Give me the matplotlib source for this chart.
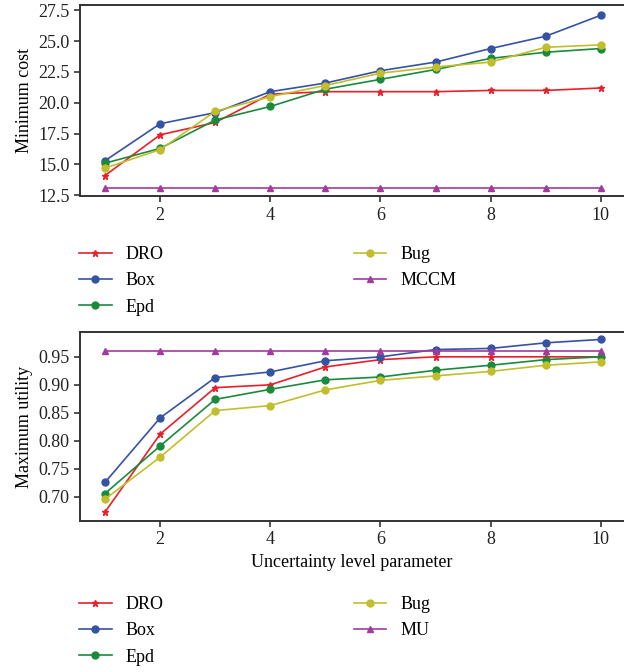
import matplotlib.pyplot as plt
import numpy as np

plt.rcParams["font.family"] = ["Liberation Serif", "DejaVu Serif"]
plt.rcParams["font.size"] = 13

levels = np.arange(1, 11)

cost_dro = [14.1, 17.4, 18.4, 20.7, 20.9, 20.9, 20.9, 21.0, 21.0, 21.2]
cost_box = [15.3, 18.3, 19.2, 20.9, 21.6, 22.6, 23.3, 24.4, 25.4, 27.1]
cost_epd = [15.1, 16.3, 18.6, 19.7, 21.1, 21.9, 22.7, 23.6, 24.1, 24.4]
cost_bug = [14.7, 16.2, 19.3, 20.5, 21.4, 22.4, 22.9, 23.3, 24.5, 24.7]
cost_mccm = [13.1] * 10

util_dro = [0.673, 0.812, 0.895, 0.900, 0.932, 0.945, 0.950, 0.950, 0.950, 0.950]
util_box = [0.726, 0.841, 0.913, 0.923, 0.943, 0.950, 0.963, 0.965, 0.975, 0.981]
util_epd = [0.706, 0.791, 0.874, 0.892, 0.909, 0.914, 0.926, 0.935, 0.945, 0.950]
util_bug = [0.696, 0.771, 0.854, 0.863, 0.891, 0.908, 0.916, 0.924, 0.935, 0.941]
util_mu = [0.960] * 10

colors = {"DRO": "#e8202a", "Box": "#3553a3", "Epd": "#1b8a3c",
          "Bug": "#c2bd2c", "MCCM": "#a03c9c", "MU": "#a03c9c"}
markers = {"DRO": "*", "Box": "o", "Epd": "o", "Bug": "o", "MCCM": "^", "MU": "^"}


def draw(ax, series, ylim, yticks):
    for name, vals in series:
        ax.plot(levels, vals, color=colors[name], marker=markers[name],
                markersize=5, linewidth=1.2, label=name)
    ax.set_xlim(0.546, 10.42)
    ax.set_ylim(*ylim)
    ax.set_xticks([2, 4, 6, 8, 10])
    ax.set_yticks(yticks)
    ax.spines["right"].set_visible(False)
    for s in ["left", "bottom", "top"]:
        ax.spines[s].set_linewidth(1.4)
        ax.spines[s].set_color("#333333")
    ax.tick_params(direction="out", length=4, width=1.2, colors="#333333",
                   labelcolor="#222222")


fig = plt.figure(figsize=(6.24, 6.72), dpi=100)

ax1 = fig.add_axes([80 / 624, 0.708, 544 / 624, 0.284])
draw(ax1, [("DRO", cost_dro), ("Box", cost_box), ("Epd", cost_epd),
           ("Bug", cost_bug), ("MCCM", cost_mccm)],
     (12.42, 27.9), [12.5, 15.0, 17.5, 20.0, 22.5, 25.0, 27.5])
ax1.yaxis.set_major_formatter(plt.FormatStrFormatter("%.1f"))
ax1.set_ylabel("Minimum cost")

ax2 = fig.add_axes([80 / 624, 0.2247, 544 / 624, 0.281])
draw(ax2, [("DRO", util_dro), ("Box", util_box), ("Epd", util_epd),
           ("Bug", util_bug), ("MU", util_mu)],
     (0.657, 0.994), [0.70, 0.75, 0.80, 0.85, 0.90, 0.95])
ax2.yaxis.set_major_formatter(plt.FormatStrFormatter("%.2f"))
ax2.set_ylabel("Maximum utility")
ax2.set_xlabel("Uncertainty level parameter")

for ax, ytop in [(ax1, 1 - 246 / 672), (ax2, 1 - 596 / 672)]:
    fig.legend(*ax.get_legend_handles_labels(), loc="upper left",
               bbox_to_anchor=(79 / 624, ytop), ncol=2, frameon=False,
               borderpad=0, borderaxespad=0, handlelength=1.8,
               handletextpad=0.8, labelspacing=0.52, columnspacing=10.5)

fig.savefig("out.png", dpi=100)
